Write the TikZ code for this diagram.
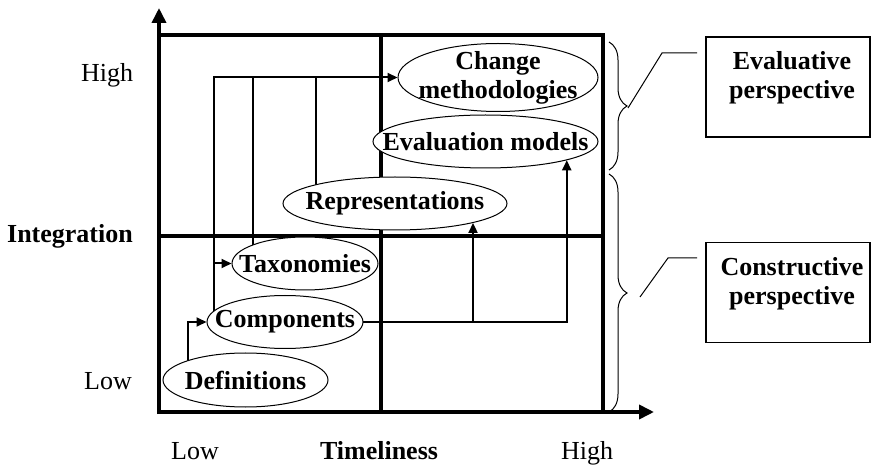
\documentclass[tikz,border=0pt]{standalone}
\usepackage{fontspec}
\setmainfont{Liberation Serif}
\usetikzlibrary{arrows.meta,shapes.geometric,decorations.pathreplacing}
\pgfdeclarelayer{bg}
\pgfsetlayers{bg,main}
\begin{document}
\begin{tikzpicture}[x=1pt,y=-1pt,
  every node/.style={font=\fontsize{26}{29}\selectfont},
  heavy/.style={line width=3.6pt},
  conn/.style={line width=2pt},
  tip/.style={-{Triangle[length=10pt,width=9pt]}},
  axis/.style={line width=3.6pt,-{Triangle[length=15pt,width=14pt]}},
  topic/.style={ellipse,draw,line width=1pt,fill=white,inner sep=0pt},
  ttl/.style={font=\fontsize{26}{29}\selectfont\bfseries,align=center,inner sep=0pt},
  lbl/.style={anchor=base,inner sep=0pt},
  blbl/.style={anchor=base,inner sep=0pt,font=\fontsize{26}{29}\selectfont\bfseries},
  persp/.style={draw,line width=1.3pt,minimum width=164pt,minimum height=100pt,inner sep=0pt},
  brc/.style={line width=1pt,decorate,decoration={brace,amplitude=18pt}},
  lead/.style={line width=1pt}]
\useasboundingbox (0,0) rectangle (871,465);

% topic ellipses
\node[topic,minimum width=200pt,minimum height=68pt] (chg) at (498,77.5) {};
\node[ttl] at (chg) {Change\\methodologies};
\node[topic,minimum width=225pt,minimum height=53pt] (eva) at (485.5,141.5) {};
\node[ttl] at (eva) {Evaluation models};
\node[topic,minimum width=224pt,minimum height=53pt] (rep) at (395,203.5) {};
\node[ttl] at (rep) {Representations};
\node[topic,minimum width=146pt,minimum height=53pt] (tax) at (305,263.5) {};
\node[ttl] at (tax) {Taxonomies};
\node[topic,minimum width=156pt,minimum height=53pt] (com) at (285,322) {};
\node[ttl] at (com) {Components};
\node[topic,minimum width=165pt,minimum height=54pt] (def) at (245.5,380) {};
\node[ttl] at (def) {Definitions};

% column positions of the vertical connectors
\coordinate (cA) at (214,0);
\coordinate (cB) at (253,0);
\coordinate (cC) at (316,0);
\coordinate (cD) at (188,0);

\begin{pgfonlayer}{bg}
  % axes and quadrant grid
  \draw[axis] (159,414) -- (159,8);
  \draw[axis] (157,412) -- (654,412);
  \draw[heavy] (157,35) -- (603,35) -- (603,412);
  \draw[heavy] (381,35) -- (381,412);
  \draw[heavy] (159,236) -- (603,236);

  % connectors
  \draw[conn,tip] (cA |- com.center) -- (cA |- chg.west) -- (chg.west);
  \draw[conn,tip] (cA |- tax.west) -- (tax.west);
  \draw[conn] (cB |- tax.center) -- (cB |- chg.west);
  \draw[conn] (cC |- rep.center) -- (cC |- chg.west);
  \draw[conn,tip] (cD |- def.center) -- (cD |- com.west) -- (com.west);
  \draw[conn,tip] (com.center) -- (eva.-13.6 |- com.center) -- (eva.-13.6);
  \draw[conn,tip] (rep.-14 |- com.center) -- (rep.-14);
\end{pgfonlayer}

% axis labels
\node[lbl] at (107,82) {High};
\node[blbl] at (70,243) {Integration};
\node[lbl] at (108,389) {Low};
\node[lbl] at (195,459) {Low};
\node[blbl] at (379,459) {Timeliness};
\node[lbl] at (587,459) {High};

% perspectives
\draw[brc] (609,42) -- (609,170);
\draw[brc] (609,174) -- (609,412);
\node[persp] (evb) at (788,87) {};
\node[ttl] at (792,78) {Evaluative\\perspective};
\node[persp] (cnb) at (788,292.5) {};
\node[ttl] at (792,284) {Constructive\\perspective};
\coordinate (evtip) at (628,108);
\coordinate (evk) at (662,53);
\coordinate (evend) at (697,53);
\coordinate (cntip) at (640,297);
\coordinate (cnk) at (668,258);
\coordinate (cnend) at (697,258);
\draw[lead] (evtip) -- (evk) -- (evend);
\draw[lead] (cntip) -- (cnk) -- (cnend);
\end{tikzpicture}
\end{document}
